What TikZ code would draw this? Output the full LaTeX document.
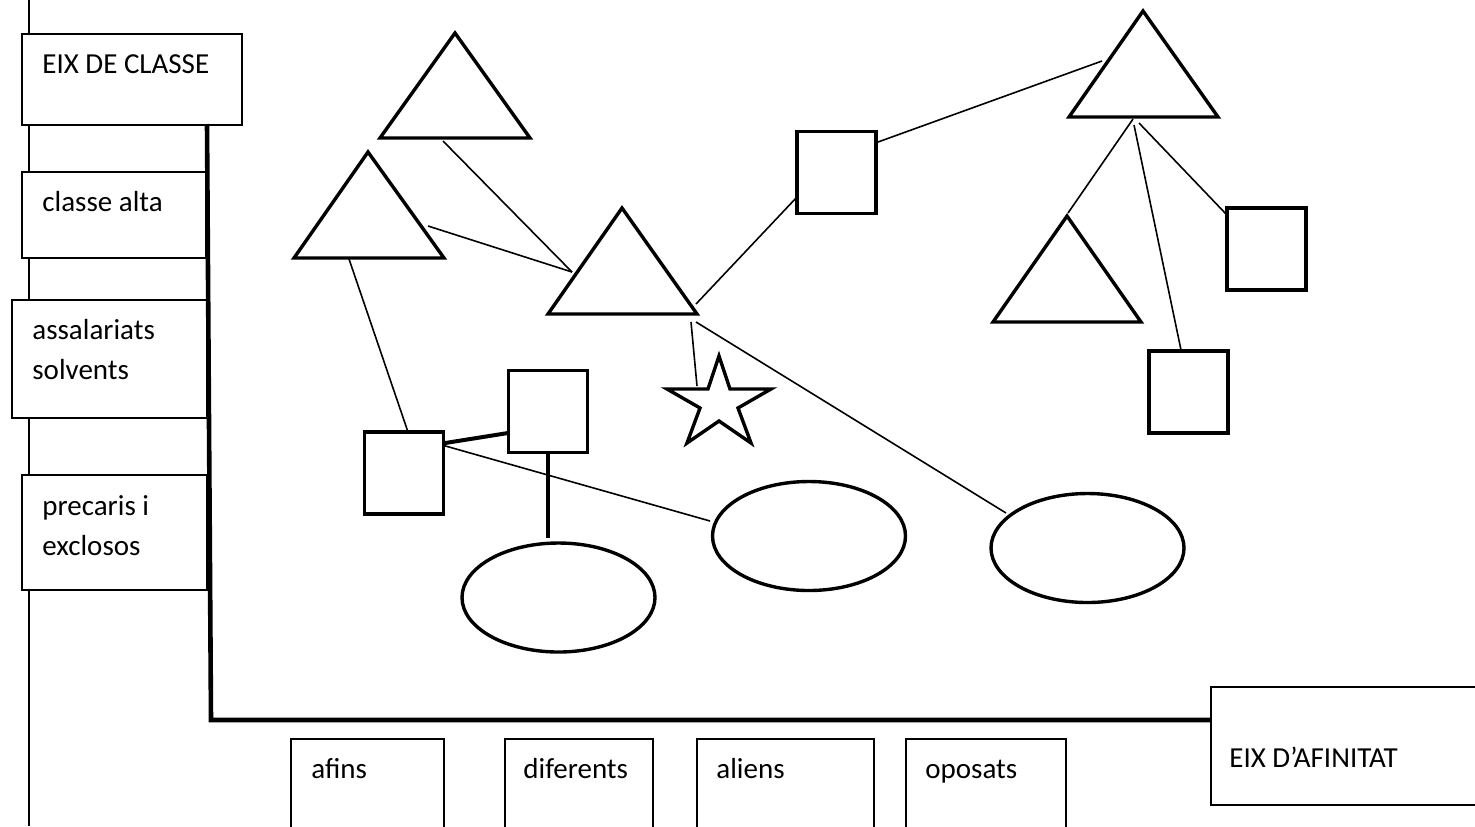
\documentclass[tikz,border=0pt]{standalone}
\usepackage{fontspec}
\setmainfont{Carlito}
\usetikzlibrary{shapes.geometric}
\begin{document}
\begin{tikzpicture}[x=0.5pt,y=-0.5pt,
  lbl/.style={anchor=base west,inner sep=0pt,font=\fontsize{14.5}{20}\selectfont},
  box/.style={draw,line width=1pt,fill=white,inner sep=0pt,anchor=north west},
  sq/.style={draw,line width=1.7pt,fill=white,inner sep=0pt,minimum width=39.5pt,minimum height=41pt},
  ell/.style={ellipse,draw,line width=1.7pt,fill=white,inner sep=0pt,minimum width=96.5pt,minimum height=54.5pt},
  fig/.style={line width=1.7pt,line join=miter,fill=white},
  conn/.style={line width=0.8pt},
  thickconn/.style={line width=2pt},
  axisline/.style={line width=2.3pt,line join=miter}]
\useasboundingbox (0,0) rectangle (1475,826);
\clip (0,0) rectangle (1475,826);

% thin left guide line
\coordinate (gtop) at (29,0);
\coordinate (gbot) at (29,826);
\draw[line width=0.8pt] (gtop) -- (gbot);

% left boxes
\node[box,minimum width=110pt,minimum height=45.5pt] (bclasse) at (21,33) {};
\node[box,minimum width=92pt,minimum height=43pt] (balta) at (21,171) {};
\node[box,minimum width=97.5pt,minimum height=59pt] (bsolv) at (11,299) {};
\node[box,minimum width=92.5pt,minimum height=57.5pt] (bprec) at (21,474) {};

% bottom boxes
\node[box,minimum width=76.5pt,minimum height=50pt] (bafins) at (290,738) {};
\node[box,minimum width=74pt,minimum height=50pt] (bdif) at (504,738) {};
\node[box,minimum width=88.5pt,minimum height=50pt] (balien) at (696,738) {};
\node[box,minimum width=80pt,minimum height=50pt] (bopos) at (905,738) {};
\node[box,minimum width=140pt,minimum height=59pt] (bafin) at (1210,686) {};

% axes
\coordinate (axtop) at (207,124);
\coordinate (axcorner) at (211,720);
\draw[axisline] (axtop) -- (axcorner) -- (bafin.west |- axcorner);

% connector end points
\coordinate (c1a) at (443,141);  \coordinate (c1b) at (572,272);
\coordinate (c2a) at (428,226);
\coordinate (c3a) at (349,259);  \coordinate (c3b) at (408,432);
\coordinate (c4a) at (439,444);  \coordinate (c4b) at (508,433);
\coordinate (c5a) at (548,448);  \coordinate (c5b) at (548,538);
\coordinate (c6a) at (442,445);  \coordinate (c6b) at (710,521);
\coordinate (c7a) at (696,304);  \coordinate (c7b) at (797,197);
\coordinate (c8a) at (691,322);  \coordinate (c8b) at (697,386);
\coordinate (c9a) at (696,322);  \coordinate (c9b) at (1006,513);
\coordinate (c10a) at (878,142); \coordinate (c10b) at (1102,61);
\coordinate (c11a) at (1133,119); \coordinate (c11b) at (1068,213);
\coordinate (c12a) at (1134,125); \coordinate (c12b) at (1181,350);
\coordinate (c13a) at (1139,123); \coordinate (c13b) at (1226,214);

\draw[conn] (c1a) -- (c1b);
\draw[conn] (c2a) -- (c1b);
\draw[conn] (c3a) -- (c3b);
\draw[thickconn] (c4a) -- (c4b);
\draw[thickconn] (c5a) -- (c5b);
\draw[conn] (c6a) -- (c6b);
\draw[conn] (c7a) -- (c7b);
\draw[conn] (c8a) -- (c8b);
\draw[conn] (c9a) -- (c9b);
\draw[conn] (c10a) -- (c10b);
\draw[conn] (c11a) -- (c11b);
\draw[conn] (c12a) -- (c12b);
\draw[conn] (c13a) -- (c13b);

% triangles
\draw[fig] (455,33) -- (380,138) -- (530,138) -- cycle;
\draw[fig] (368,152) -- (294,258) -- (444,258) -- cycle;
\draw[fig] (622,208) -- (548,314) -- (697,314) -- cycle;
\draw[fig] (1143,11) -- (1069,117) -- (1218,117) -- cycle;
\draw[fig] (1067,216) -- (993,322) -- (1141,322) -- cycle;

% squares
\node[sq] (s1) at (404,473) {};
\node[sq] (s2) at (548,411.5) {};
\node[sq] (s3) at (836.5,172.5) {};
\node[sq] (s4) at (1266.5,249) {};
\node[sq] (s5) at (1188.5,392) {};

% ellipses
\node[ell] (e1) at (558.5,597.5) {};
\node[ell] (e2) at (809,536) {};
\node[ell] (e3) at (1087.5,548) {};

% star
\draw[fig] (719,356) -- (730,389) -- (771,389) -- (738,408) -- (751,443) -- (719,421)
  -- (687,443) -- (700,408) -- (667,389) -- (708,389) -- cycle;

% labels
\node[lbl] (tclasse) at (42,73) {EIX DE CLASSE};
\node[lbl] (talta) at (42,211) {classe alta};
\node[lbl] (tsolv1) at (32,339) {assalariats};
\node[lbl] (tsolv2) at (32,379) {solvents};
\node[lbl] (tprec1) at (42,515) {precaris i};
\node[lbl] (tprec2) at (42,555) {exclosos};
\node[lbl] (tafins) at (311,778) {afins};
\node[lbl] (tdif) at (523,778) {diferents};
\node[lbl] (talien) at (716,778) {aliens};
\node[lbl] (topos) at (925,778) {oposats};
\node[lbl] (tafin) at (1229,767) {EIX D’AFINITAT};
\end{tikzpicture}
\end{document}
